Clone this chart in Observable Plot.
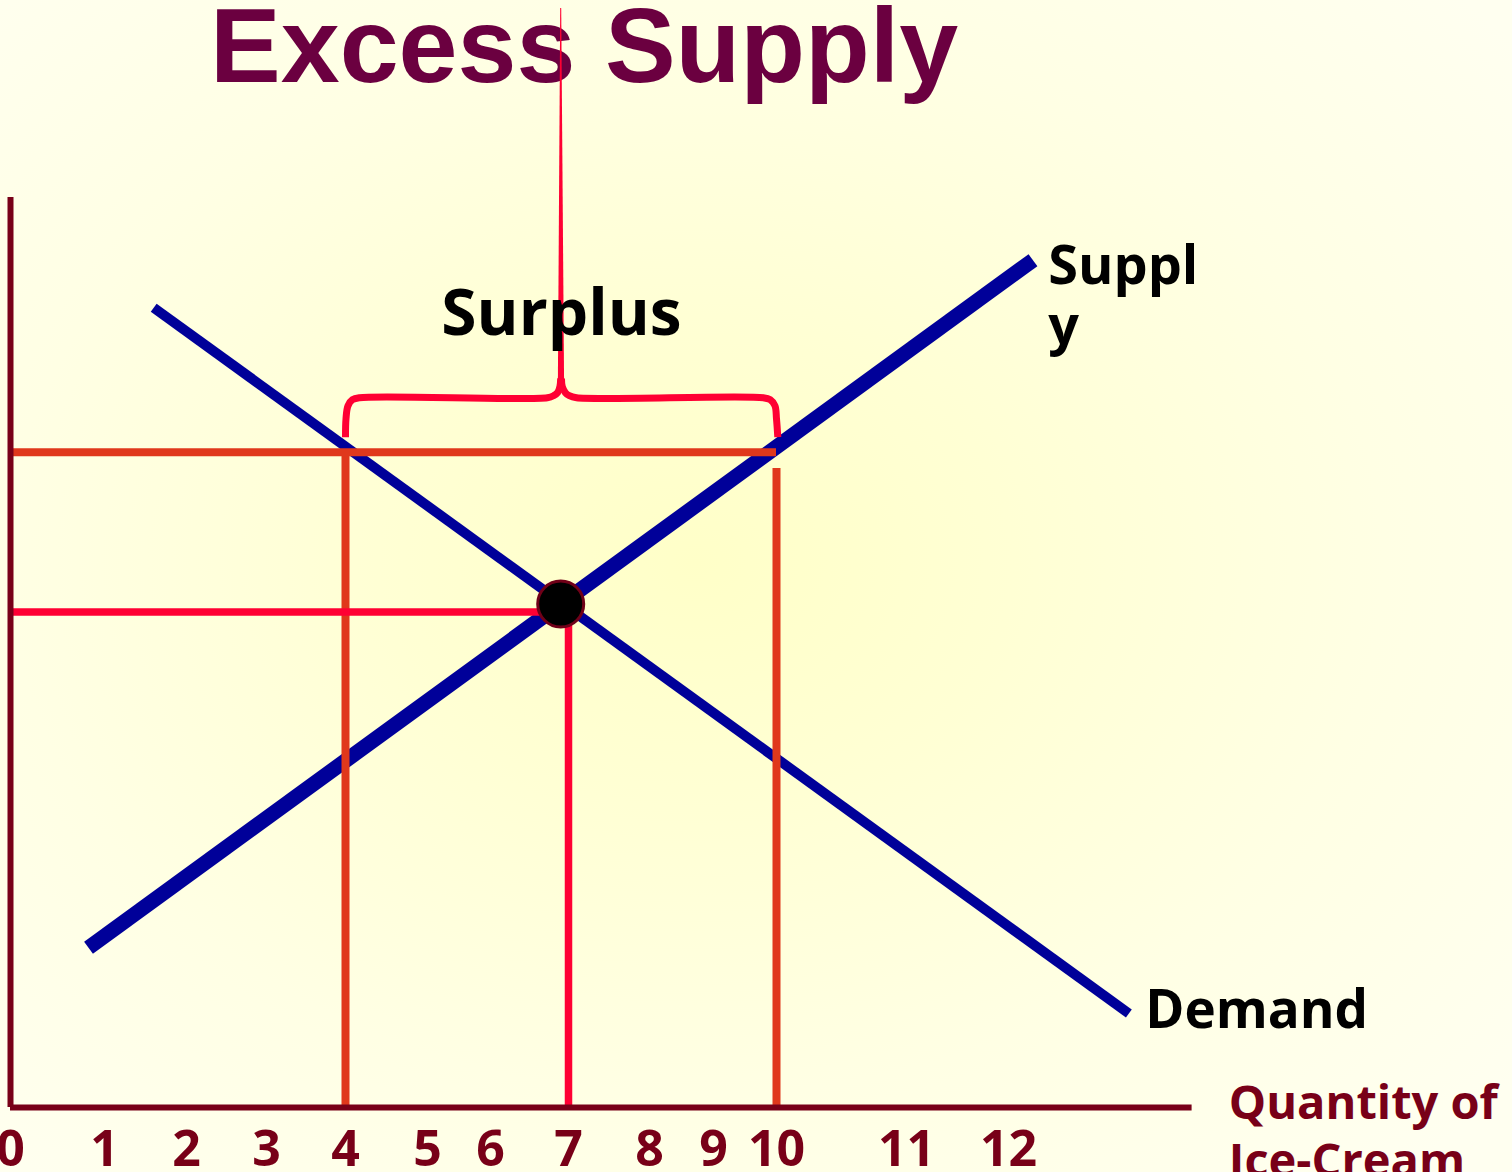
<!DOCTYPE html>
<html>
<head>
<meta charset="utf-8">
<script src="https://cdn.jsdelivr.net/npm/d3@7"></script>
<script src="https://cdn.jsdelivr.net/npm/@observablehq/plot@0.6"></script>
<style>
  html, body { margin: 0; padding: 0; }
  body {
    width: 1512px; height: 1172px; overflow: hidden;
    background: radial-gradient(ellipse 70% 70% at 46% 48%, #FFFFC8 0%, #FFFFD4 30%, #FFFFE4 65%, #FFFFF0 100%);
  }
  #wrap { position: relative; width: 1512px; height: 1172px; }
  #title {
    position: absolute; left: 210px; top: -8px; z-index: 0;
    font-family: "Liberation Sans", Arial, sans-serif; font-weight: bold;
    font-size: 106px; line-height: 1; color: #6B0040; white-space: nowrap;
  }
  #chart { position: absolute; left: 0; top: 0; z-index: 1; }
  #chart svg { overflow: visible; }
</style>
</head>
<body>
<div id="wrap">
  <div id="title">Excess Supply</div>
  <div id="chart"></div>
</div>
<script>
// ---- data ----
const quantityTicks = [0, 1, 2, 3, 4, 5, 6, 7, 8, 9, 10, 11, 12];

const demandQty   = [1.60, 13.18];
const demandPrice = [7.91, 0.93];
const supplyQty   = [0.83, 12.24];
const supplyPrice = [1.58, 8.38];

const surplusPrice    = 6.48;  // price above equilibrium
const qtyDemanded     = 4;
const qtySupplied     = 10;
const suppliedDropTop = 6.32;  // right drop line starts a bit below the price line
const eqQty           = 7;
const eqPrice         = 4.9;
const eqPointQty      = 6.90;
const eqPointPrice    = 4.98;
const axisQtyEnd      = 13.8;
const axisPriceEnd    = 9;

// curly brace over the surplus
const braceLeftQty    = [4.00, 4.006, 4.03, 4.085, 4.17, 6.73, 6.81, 6.86, 6.89, 6.90];
const braceLeftPrice  = [6.63, 6.81, 6.94, 7.00, 7.02, 7.02, 7.04, 7.07, 7.13, 7.21];
const braceRightQty   = [10.01, 10.00, 9.976, 9.90, 9.79, 7.10, 7.01, 6.96, 6.92, 6.91];
const braceRightPrice = [6.63, 6.81, 6.94, 7.00, 7.02, 7.02, 7.04, 7.07, 7.13, 7.21];
const braceTipPrice = [7.15, 10.87];
const braceTipLeft  = [6.87, 6.900];
const braceTipRight = [6.95, 6.913];

const labelText  = ["Surplus", "Suppl\ny", "Demand", "Quantity of\nIce-Cream"];
const labelQty   = [6.91, 12.39, 13.34, 14.16];
const labelPrice = [7.84, 8.565, 0.95, 0.287];

// quantity scale is hand-spaced in the original slide (piecewise)
const qtyBreaks   = quantityTicks;

// ---- styles ----
const blue = "#000099", orange = "#E0381C", red = "#FF0033", maroon = "#780018";
const font = "'Open Sans', 'Noto Sans', sans-serif";
const qtyPixels = [10, 104, 186, 266, 345, 427, 490, 568, 649, 713, 776, 906, 1008];

const demand = demandQty.map((q, i) => ({q, p: demandPrice[i]}));
const supply = supplyQty.map((q, i) => ({q, p: supplyPrice[i]}));
const braceL = braceLeftQty.map((q, i) => ({q, p: braceLeftPrice[i]}));
const braceR = braceRightQty.map((q, i) => ({q, p: braceRightPrice[i]}));
const braceTip = braceTipPrice.map((p, i) => ({p, x1: braceTipLeft[i], x2: braceTipRight[i]}));
const labels = labelText.map((t, i) => ({t, q: labelQty[i], p: labelPrice[i]}));

const chart = Plot.plot({
  width: 1512,
  height: 1172,
  marginTop: 197,
  marginBottom: 65,
  marginLeft: 0,
  marginRight: 0,
  style: {background: "transparent", fontFamily: font, overflow: "visible"},
  x: {type: "linear", domain: qtyBreaks, range: qtyPixels},
  y: {domain: [0, axisPriceEnd], axis: null},
  marks: [
    // supply & demand curves
    Plot.line(demand, {x: "q", y: "p", stroke: blue, strokeWidth: 10, strokeLinecap: "butt"}),
    Plot.line(supply, {x: "q", y: "p", stroke: blue, strokeWidth: 15, strokeLinecap: "butt"}),
    // surplus guides
    Plot.ruleY([surplusPrice], {x1: 0, x2: qtySupplied, stroke: orange, strokeWidth: 8}),
    Plot.ruleX([qtyDemanded], {y1: 0, y2: surplusPrice, stroke: orange, strokeWidth: 8}),
    Plot.ruleX([qtySupplied], {y1: 0, y2: suppliedDropTop, stroke: orange, strokeWidth: 8}),
    // equilibrium guides
    Plot.ruleY([eqPrice], {x1: 0, x2: eqPointQty, stroke: red, strokeWidth: 7.5}),
    Plot.ruleX([eqQty], {y1: 0, y2: eqPrice, stroke: red, strokeWidth: 7.5}),
    Plot.dot([{q: eqPointQty, p: eqPointPrice}], {x: "q", y: "p", r: 23, fill: "black", stroke: "#700018", strokeWidth: 3}),
    // brace
    Plot.areaX(braceTip, {y: "p", x1: "x1", x2: "x2", fill: red}),
    Plot.line(braceL, {x: "q", y: "p", stroke: red, strokeWidth: 7, curve: "catmull-rom", strokeLinecap: "butt"}),
    Plot.line(braceR, {x: "q", y: "p", stroke: red, strokeWidth: 7, curve: "catmull-rom", strokeLinecap: "butt"}),
    // axes lines
    Plot.ruleX([0], {y1: 0, y2: axisPriceEnd, stroke: maroon, strokeWidth: 6}),
    Plot.ruleY([0], {x1: 0, x2: axisQtyEnd, stroke: maroon, strokeWidth: 6}),
    Plot.axisX(quantityTicks, {
      anchor: "bottom", tickSize: 0, tickPadding: 23, label: null,
      fontSize: 50, fontWeight: "bold", fontFamily: font, fill: maroon
    }),
    // labels
    Plot.text(labels.slice(0, 1), {x: "q", y: "p", text: "t", fontSize: 64, fontWeight: "bold", fontFamily: font, fill: "black", textAnchor: "middle", lineAnchor: "middle"}),
    Plot.text(labels.slice(1, 2), {x: "q", y: "p", text: "t", fontSize: 54, fontWeight: "bold", fontFamily: font, fill: "black", textAnchor: "start", lineAnchor: "top", lineHeight: 1.11}),
    Plot.text(labels.slice(2, 3), {x: "q", y: "p", text: "t", fontSize: 53, fontWeight: "bold", fontFamily: font, fill: "black", textAnchor: "start", lineAnchor: "middle"}),
    Plot.text(labels.slice(3, 4), {x: "q", y: "p", text: "t", fontSize: 47, fontWeight: "bold", fontFamily: font, fill: maroon, textAnchor: "start", lineAnchor: "top", lineHeight: 1.22})
  ]
});
document.getElementById("chart").appendChild(chart);
</script>
</body>
</html>
